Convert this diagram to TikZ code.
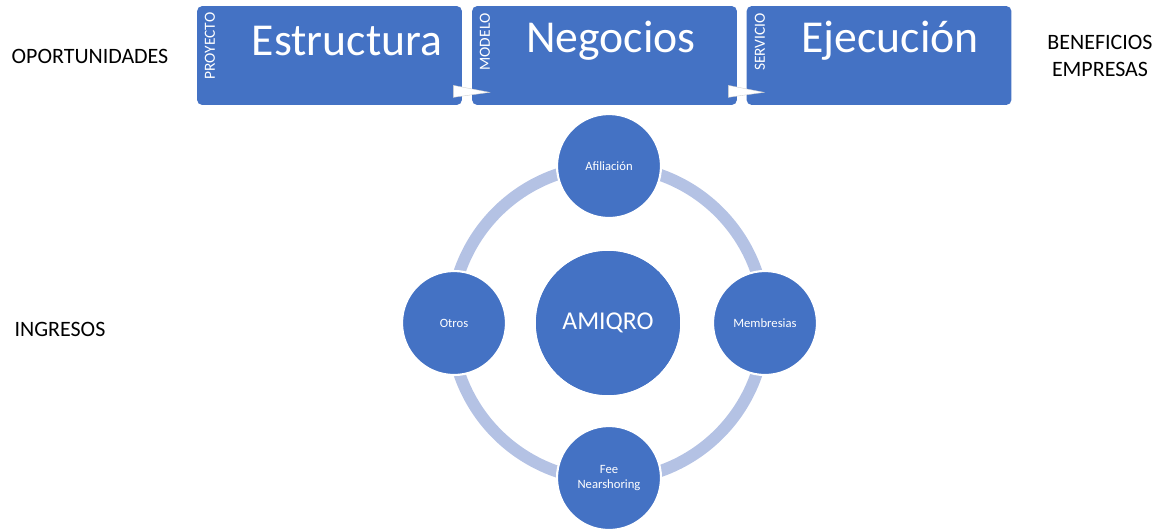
\documentclass[tikz,border=0pt]{standalone}
\usepackage{fontspec}
\setmainfont{Carlito}
\usetikzlibrary{calc}
\definecolor{officeblue}{RGB}{68,114,196}
\definecolor{ringblue}{RGB}{180,194,228}

\begin{document}
\begin{tikzpicture}[x=0.02cm, y=-0.02cm,
        stage/.style={fill=officeblue, rounded corners=3pt, minimum width=5.3cm, minimum height=1.98cm, inner sep=0pt},
        title/.style={text=white, font=\fontsize{26}{30}\selectfont},
        tag/.style={text=white, rotate=90, font=\fontsize{8.8}{10}\selectfont, inner sep=0pt},
        side/.style={font=\fontsize{12.5}{15}\selectfont, align=center},
        spoke/.style={circle, fill=officeblue, draw=white, line width=1.2pt, minimum size=2.08cm, text=white, align=center, font=\fontsize{7.2}{9}\selectfont, inner sep=0pt},
        arrowtip/.style={fill=white, draw=white!80!black, line width=0.2pt}]
        \useasboundingbox (0, 0) rectangle (1161, 529);

        % top row
        \node[stage] (estr) at (329.5, 55.5) {};
        \node[stage] (nego) at (604.5, 55.5) {};
        \node[stage] (ejec) at (879, 55.5) {};
        \node[title] (estrT) at (347, 41) {Estructura};
        \node[title] (negoT) at (611, 41) {Negocios};
        \node[title] (ejecT) at (890, 41) {Ejecución};
        \node[tag] (estrL) at (210, 46) {PROYECTO};
        \node[tag] (negoL) at (485, 42) {MODELO};
        \node[tag] (ejecL) at (760, 42) {SERVICIO};
        \fill[arrowtip] ($(estr.south east)+(-9, -20)$) -- ($(estr.south east)+(-9, -8)$) -- ($(nego.south west)+(18, -13)$) -- cycle;
        \fill[arrowtip] ($(nego.south east)+(-9, -20)$) -- ($(nego.south east)+(-9, -8)$) -- ($(ejec.south west)+(18, -13)$) -- cycle;

        \node[side] (oport) at (90, 56) {OPORTUNIDADES};
        \node[side] (benef) at (1100, 56) {BENEFICIOS\\EMPRESAS};
        \node[side] (ingr) at (60, 329) {INGRESOS};

        % cycle
        \node[circle, fill=officeblue, minimum size=2.88cm, inner sep=0pt] (hub) at (608, 323) {};
        \draw[ringblue, line width=6.8pt] (hub.center) circle (157);
        \node[circle, fill=officeblue, minimum size=2.88cm, text=white, font=\fontsize{14.6}{17}\selectfont] (hubT) at (hub) {AMIQRO};
        \node[spoke] (afil) at (609, 166) {Afiliación};
        \node[spoke] (memb) at (765, 323) {Membresias};
        \node[spoke] (fee) at (609, 478) {Fee\\Nearshoring};
        \node[spoke] (otros) at (454, 323) {Otros};

    \end{tikzpicture}
\end{document}
